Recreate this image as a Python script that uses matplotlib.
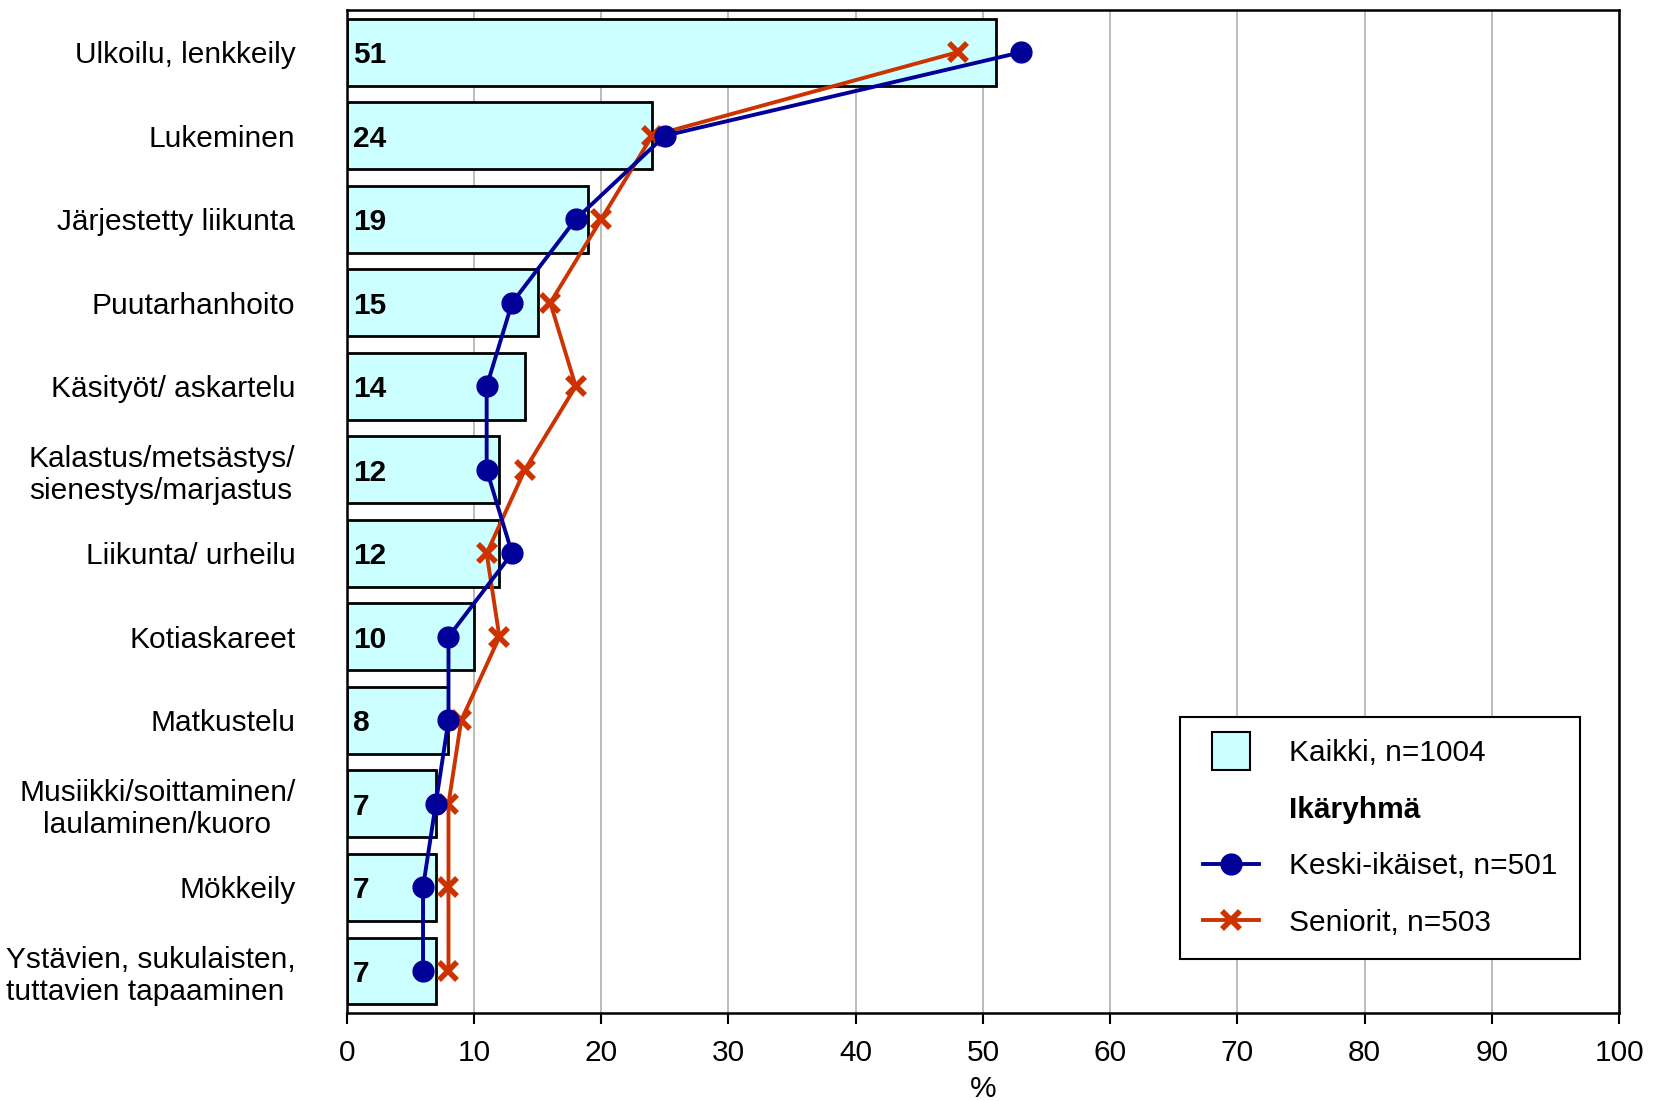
import matplotlib
matplotlib.use("Agg")
import matplotlib.pyplot as plt
from matplotlib.lines import Line2D
import numpy as np

plt.rcParams['font.family'] = ['Liberation Sans', 'DejaVu Sans']

# data
categories = ["Ulkoilu, lenkkeily", "Lukeminen", "Järjestetty liikunta", "Puutarhanhoito",
              "Käsityöt/ askartelu", "Kalastus/metsästys/\nsienestys/marjastus",
              "Liikunta/ urheilu", "Kotiaskareet", "Matkustelu",
              "Musiikki/soittaminen/\nlaulaminen/kuoro", "Mökkeily",
              "Ystävien, sukulaisten,\ntuttavien tapaaminen"]
kaikki = [51, 24, 19, 15, 14, 12, 12, 10, 8, 7, 7, 7]
keski_ikaiset = [53, 25, 18, 13, 11, 11, 13, 8, 8, 7, 6, 6]
seniorit = [48, 24, 20, 16, 18, 14, 11, 12, 9, 8, 8, 8]
xticks = list(range(0, 101, 10))

bar_col = '#CCFFFF'
blue = '#000099'
red = '#CC3300'
fs = 21.5

fig = plt.figure(figsize=(16.54, 11.01), dpi=100)
ax = fig.add_axes([0.2096, 0.0802, 0.7694, 0.9103])

y = np.arange(len(categories))
ax.barh(y, kaikki, height=0.8, color=bar_col, edgecolor='black', linewidth=2, zorder=2)
for yi, v in zip(y, kaikki):
    ax.text(0.5, yi, str(v), ha='left', va='center_baseline', fontsize=fs,
            fontweight='bold', zorder=5)

ax.plot(keski_ikaiset, y, color=blue, lw=2.8, marker='o', markersize=15, zorder=4)
ax.plot(seniorit, y, color=red, lw=2.8, marker='x', markersize=13, markeredgewidth=4, zorder=3)

ax.set_xlim(0, 100)
ax.set_ylim(len(categories) - 0.5, -0.5)
ax.set_xticks(xticks)
ax.set_xticklabels([str(t) for t in xticks], fontsize=fs)
ax.tick_params(axis='x', direction='out', length=8, width=1.5, pad=11)
ax.set_yticks(y)
ax.set_yticklabels(categories, fontsize=fs)
ax.tick_params(axis='y', length=0, pad=37)
aligns = ['center'] * len(categories)
aligns[5] = 'left'
aligns[11] = 'left'
for lab, al in zip(ax.get_yticklabels(), aligns):
    lab.set_multialignment(al)
ax.set_xlabel('%', fontsize=fs, labelpad=6)

ax.grid(axis='x', color='#b0b0b0', lw=1.2, zorder=0)
ax.set_axisbelow(True)
for s in ax.spines.values():
    s.set_linewidth(1.8)
    s.set_color('black')

handles = [
    Line2D([], [], linestyle='none', marker='s', markersize=28, markerfacecolor=bar_col,
           markeredgecolor='black', markeredgewidth=1.5),
    Line2D([], [], linestyle='none'),
    Line2D([], [], color=blue, lw=2.8, marker='o', markersize=15),
    Line2D([], [], color=red, lw=2.8, marker='x', markersize=13, markeredgewidth=4),
]
labels = ['Kaikki, n=1004', 'Ikäryhmä', 'Keski-ikäiset, n=501', 'Seniorit, n=503']
leg = ax.legend(handles, labels, loc='upper left', bbox_to_anchor=(0.655, 0.295),
                borderaxespad=0, fontsize=fs, frameon=True, fancybox=False,
                edgecolor='black', framealpha=1, handlelength=1.9, handletextpad=1.0,
                labelspacing=0.95, borderpad=0.75)
leg.get_frame().set_linewidth(1.5)
leg.get_texts()[1].set_fontweight('bold')

fig.savefig('out.png', dpi=100)
